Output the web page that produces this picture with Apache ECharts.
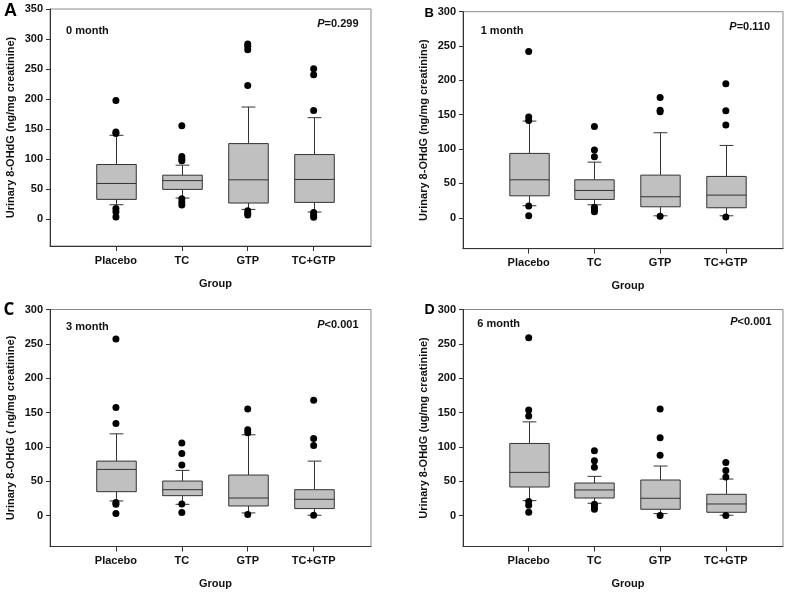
<!DOCTYPE html>
<html><head><meta charset="utf-8">
<script src="https://cdn.jsdelivr.net/npm/echarts@6/dist/echarts.min.js"></script>
<style>html,body{margin:0;padding:0;background:#fff}#c{width:798px;height:594px}</style>
</head><body><div id="c"></div>
<script>
const groups = ['Placebo', 'TC', 'GTP', 'TC+GTP'];
// box stats per group: [lower whisker, Q1, median, Q3, upper whisker]
const month0Box = [[23.8, 32.7, 59.2, 90.8, 139.5], [34.9, 49.3, 64, 73, 89.7], [16, 26.6, 65.3, 125.7, 186.6], [11.6, 27.7, 65.9, 107.4, 168.9]];
const month0Outliers = [[197.7, 145, 142.5, 17.7, 12.2, 3.3], [155.6, 104, 100, 97, 33.8, 28.2, 23.3], [291.5, 288, 282, 222.6, 13.8, 9.4, 6.6], [250.3, 240.3, 181, 11, 6.6, 2.8]];
const month1Box = [[17.5, 32, 55.3, 93.7, 140.8], [18.9, 26.7, 39.8, 55.3, 81], [2.9, 16, 30.6, 62.1, 123.8], [2.9, 14.6, 33, 60.2, 105.3]];
const month1Outliers = [[242, 146.6, 141.7, 17, 2.9], [133, 98.5, 88.8, 15.5, 12.1, 8.7], [175.2, 156.5, 154.5, 2.4], [195.1, 155.8, 135, 1]];
const month3Box = [[21.3, 34.8, 67.2, 79.3, 119], [16.4, 29, 37.7, 50.3, 65.8], [3.9, 14, 25.6, 59, 117.6], [0.5, 10.2, 23.7, 37.7, 79.3]];
const month3Outliers = [[256.9, 157.2, 134, 18.9, 16.4, 2.9], [105.5, 90.5, 73.5, 16.9, 4.4], [155.3, 124.8, 120.5, 1.5], [167.9, 112.2, 102, 0.5]];
const month6Box = [[21.8, 41.6, 62.9, 105, 136.4], [17.9, 25.6, 37.3, 47.4, 57.1], [2.9, 9.2, 25.2, 51.8, 72.1], [0.5, 4.8, 16.9, 31, 53.2]];
const month6Outliers = [[258.8, 153.8, 145.1, 20.5, 15, 4.8], [94.3, 79.8, 70.2, 16.5, 13, 9.2], [155.3, 113.2, 88, 0], [77.4, 65.8, 56.1, 0]];
const yTicks350 = [0, 50, 100, 150, 200, 250, 300, 350];
const yTicks300 = [0, 50, 100, 150, 200, 250, 300];
const panelLetters = ['A', 'B', 'C', 'D'];
const monthLabels = ['0 month', '1 month', '3 month', '6 month'];
const pLabels = ['=0.299', '=0.110', '<0.001', '<0.001'];
const yTitles = ['Urinary 8-OHdG (ng/mg creatinine)', 'Urinary 8-OHdG (ng/mg creatinine)', 'Urinary 8-OHdG ( ng/mg creatinine)', 'Urinary 8-OHdG (ug/mg creatinine)'];

const boxes = [month0Box, month1Box, month3Box, month6Box];
const outliers = [month0Outliers, month1Outliers, month3Outliers, month6Outliers];
const yTicks = [yTicks350, yTicks300, yTicks300, yTicks300];

// layout
const grids = [
  {left: 50, top: 9, width: 321, height: 237},
  {left: 463, top: 11.7, width: 320, height: 237},
  {left: 50, top: 309.5, width: 321, height: 237},
  {left: 463, top: 309.5, width: 320, height: 237}
];
const FONT = '"Liberation Sans", Arial, sans-serif';
const dark = '#333';

function renderBox(params, api) {
  const x = api.value(0);
  const lo = api.coord([x, api.value(1)]);
  const q1 = api.coord([x, api.value(2)]);
  const md = api.coord([x, api.value(3)]);
  const q3 = api.coord([x, api.value(4)]);
  const hi = api.coord([x, api.value(5)]);
  const bw = api.size([0.6, 0])[0];
  const cw = api.size([0.21, 0])[0];
  const cx = Math.round(lo[0]) + 0.5;
  const st = {stroke: dark, lineWidth: 1};
  return {type: 'group', children: [
    {type: 'line', shape: {x1: cx, y1: q3[1], x2: cx, y2: hi[1]}, style: st},
    {type: 'line', shape: {x1: cx, y1: q1[1], x2: cx, y2: lo[1]}, style: st},
    {type: 'line', shape: {x1: cx - cw / 2, y1: hi[1], x2: cx + cw / 2, y2: hi[1]}, style: st},
    {type: 'line', shape: {x1: cx - cw / 2, y1: lo[1], x2: cx + cw / 2, y2: lo[1]}, style: st},
    {type: 'rect', shape: {x: cx - bw / 2, y: q3[1], width: bw, height: q1[1] - q3[1]}, style: {fill: '#c0c0c0', stroke: dark, lineWidth: 1}},
    {type: 'line', shape: {x1: cx - bw / 2, y1: md[1], x2: cx + bw / 2, y2: md[1]}, style: st}
  ]};
}

const option = {
  animation: false,
  backgroundColor: '#fff',
  grid: grids.map(g => Object.assign({show: true, borderColor: '#8a8a8a', borderWidth: 1, backgroundColor: 'transparent'}, g)),
  xAxis: grids.map((g, i) => ({
    type: 'value', gridIndex: i, min: 0, max: 4.87,
    axisLine: {show: true, onZero: false, lineStyle: {color: dark, width: 1}},
    axisTick: {show: true, customValues: [1, 2, 3, 4], length: 5, lineStyle: {color: dark}},
    axisLabel: {show: true, customValues: [1, 2, 3, 4], formatter: v => groups[Math.round(v) - 1] || '', fontFamily: FONT, fontWeight: 'bold', fontSize: 11, color: '#111', margin: 9},
    splitLine: {show: false},
    name: 'Group', nameLocation: 'middle', nameGap: 32,
    nameTextStyle: {fontFamily: FONT, fontWeight: 'bold', fontSize: 11, color: '#111', padding: [0, 0, 0, 10]}
  })),
  yAxis: grids.map((g, i) => ({
    type: 'value', gridIndex: i, min: -45, max: i === 0 ? 350 : 300,
    axisLine: {show: true, onZero: false, lineStyle: {color: dark, width: 1}},
    axisTick: {show: true, customValues: yTicks[i], length: 4, lineStyle: {color: dark}},
    axisLabel: {show: true, customValues: yTicks[i], fontFamily: FONT, fontWeight: 'bold', fontSize: 11, color: '#111', margin: 7},
    splitLine: {show: false},
    name: yTitles[i], nameLocation: 'middle', nameGap: 34,
    nameTextStyle: {fontFamily: FONT, fontWeight: 'bold', fontSize: 11, color: '#111'}
  })),
  series: [],
  graphic: []
};

boxes.forEach((b, i) => {
  option.series.push({
    type: 'custom', xAxisIndex: i, yAxisIndex: i,
    renderItem: renderBox,
    encode: {x: 0, y: [1, 2, 3, 4, 5]},
    data: groups.map((g, k) => [k + 1].concat(b[k])),
    z: 2
  });
  const pts = [];
  outliers[i].forEach((arr, k) => arr.forEach(v => pts.push([k + 1, v])));
  option.series.push({
    type: 'scatter', xAxisIndex: i, yAxisIndex: i,
    symbol: 'circle', symbolSize: 7,
    itemStyle: {color: '#000', opacity: 1},
    emphasis: {disabled: true},
    data: pts, z: 3
  });
});

const letterPos = [
  {x: 4, y: 11, size: 18, font: FONT},
  {x: 424.5, y: 13.8, size: 13, font: FONT},
  {x: 3.5, y: 310, size: 17, font: '"Open Sans", sans-serif'},
  {x: 424.5, y: 310.3, size: 14, font: FONT}
];
const monthPos = [{x: 66, y: 30.7}, {x: 480.7, y: 30.7}, {x: 66, y: 327}, {x: 477.3, y: 324.3}];
const pPos = [{x: 358.5, y: 24.3}, {x: 770, y: 26.7}, {x: 358.5, y: 325.3}, {x: 771.5, y: 322}];

for (let i = 0; i < 4; i++) {
  option.graphic.push({
    type: 'text', x: letterPos[i].x, y: letterPos[i].y, z: 10,
    style: {text: panelLetters[i], fontFamily: letterPos[i].font, fontWeight: 'bold', fontSize: letterPos[i].size, fill: '#000', textAlign: 'left', textVerticalAlign: 'middle'}
  });
  option.graphic.push({
    type: 'text', x: monthPos[i].x, y: monthPos[i].y, z: 10,
    style: {text: monthLabels[i], fontFamily: FONT, fontWeight: 'bold', fontSize: 11, fill: '#111', textAlign: 'left', textVerticalAlign: 'middle'}
  });
  option.graphic.push({
    type: 'text', x: pPos[i].x, y: pPos[i].y, z: 10,
    style: {
      text: '{i|P}{n|' + pLabels[i] + '}',
      textAlign: 'right', textVerticalAlign: 'middle',
      rich: {
        i: {fontFamily: FONT, fontWeight: 'bold', fontStyle: 'italic', fontSize: 11, fill: '#111'},
        n: {fontFamily: FONT, fontWeight: 'bold', fontSize: 11, fill: '#111'}
      }
    }
  });
}

const chart = echarts.init(document.getElementById('c'), null, {renderer: 'canvas'});
chart.setOption(option);
</script>
</body></html>
